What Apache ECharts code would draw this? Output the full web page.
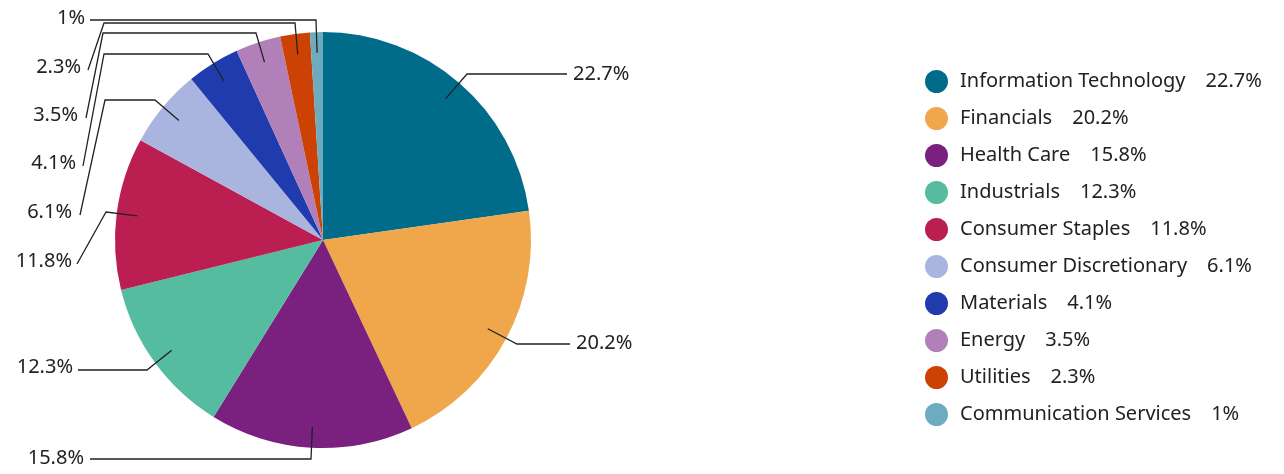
<!DOCTYPE html>
<html>
<head>
<meta charset="utf-8">
<script src="https://cdn.jsdelivr.net/npm/echarts@6/dist/echarts.min.js"></script>
<style>
  html, body { margin: 0; padding: 0; background: #fff; }
  #chart { width: 1284px; height: 474px; }
</style>
</head>
<body>
<div id="chart"></div>
<script>
// sector weights, %
const sectors = ['Information Technology', 'Financials', 'Health Care', 'Industrials', 'Consumer Staples',
  'Consumer Discretionary', 'Materials', 'Energy', 'Utilities', 'Communication Services'];
const weights = [22.7, 20.2, 15.8, 12.3, 11.8, 6.1, 4.1, 3.5, 2.3, 1];
const colors = ['#006c8a', '#f0a74b', '#7a207f', '#55bca0', '#bb1f51',
  '#a9b5df', '#1f3bae', '#b280b8', '#cb4204', '#6dacbe'];

const CX = 323, CY = 240, R = 208;
const FONT = 'Noto Sans';

// where each label sits and the bends of its leader line
const spots = [
  { x: 573, y: 74, align: 'left', bends: [[467, 74]], end: [567, 74] },
  { x: 576, y: 343, align: 'left', bends: [[517, 344]], end: [570, 344] },
  { x: 84, y: 458, align: 'right', bends: [[311, 459]], end: [90, 459] },
  { x: 73, y: 367, align: 'right', bends: [[147, 370]], end: [78, 370] },
  { x: 72, y: 261, align: 'right', bends: [[106, 212]], end: [77, 264] },
  { x: 72, y: 212, align: 'right', bends: [[155, 100], [105, 100]], end: [80, 215] },
  { x: 76, y: 163, align: 'right', bends: [[208, 54], [104, 54]], end: [83, 166] },
  { x: 78, y: 115, align: 'right', bends: [[256, 33], [103, 33]], end: [86, 118] },
  { x: 81, y: 67, align: 'right', bends: [[295, 23], [104, 23]], end: [88, 70] },
  { x: 85, y: 18, align: 'right', bends: [[316, 20]], end: [90, 20] }
];

const pieData = sectors.map(function (s, i) { return { name: s, value: weights[i] }; });

const chart = echarts.init(document.getElementById('chart'));

chart.setOption({
  animation: false,
  color: colors,
  legend: {
    orient: 'vertical',
    left: 920,
    top: 65,
    icon: 'circle',
    itemWidth: 23,
    itemHeight: 23,
    itemGap: 14,
    data: sectors,
    formatter: function (name) {
      return '{n|' + name + '}{v|' + weights[sectors.indexOf(name)] + '%}';
    },
    textStyle: {
      fontFamily: FONT,
      fontSize: 20,
      color: '#222',
      rich: {
        n: { fontFamily: FONT, fontSize: 20, color: '#222', padding: [0, 0, 0, 7] },
        v: { fontFamily: FONT, fontSize: 20, color: '#222', padding: [0, 0, 0, 20] }
      }
    }
  },
  series: [{
    // coloured slices
    type: 'pie',
    z: 2,
    center: [CX, CY],
    radius: R,
    startAngle: 90,
    clockwise: true,
    data: pieData,
    label: { show: false },
    labelLine: { show: false },
    emphasis: { disabled: true }
  }, {
    // same pie, see-through, only for the labels so the leader lines sit on top
    type: 'pie',
    z: 5,
    center: [CX, CY],
    radius: R,
    startAngle: 90,
    clockwise: true,
    data: pieData,
    itemStyle: { color: 'rgba(0,0,0,0)' },
    label: {
      show: true,
      position: 'outside',
      formatter: '{c}%',
      fontFamily: FONT,
      fontSize: 20,
      color: '#222'
    },
    labelLine: {
      show: true,
      length: 20,
      length2: 20,
      smooth: false,
      lineStyle: { color: '#222', width: 1.3 }
    },
    labelLayout: function (params) {
      const s = spots[params.dataIndex];
      const p0 = params.labelLinePoints[0];
      const start = [CX + (p0[0] - CX) * 0.9, CY + (p0[1] - CY) * 0.9];
      return {
        x: s.x,
        y: s.y,
        align: s.align,
        verticalAlign: 'middle',
        labelLinePoints: [start].concat(s.bends, [s.end])
      };
    },
    emphasis: { disabled: true }
  }]
});
</script>
</body>
</html>
